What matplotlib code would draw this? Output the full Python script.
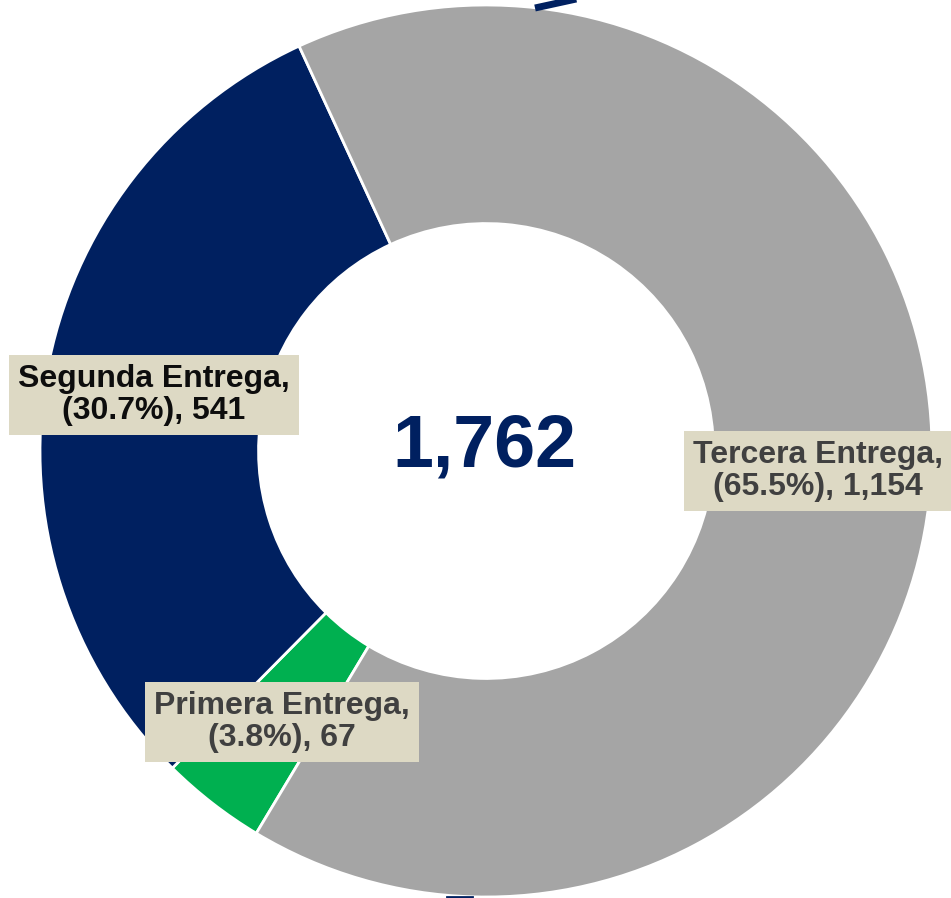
import matplotlib
matplotlib.use("Agg")
import matplotlib.pyplot as plt

plt.rcParams['font.family'] = ['Liberation Sans', 'DejaVu Sans']

# data
categories = ['Primera Entrega', 'Segunda Entrega', 'Tercera Entrega']
values = [67, 541, 1154]
colors = ['#00B050', '#002060', '#A5A5A5']
text_colors = ['#404040', '#0D0D0D', '#404040']
# label box centres in pixel coords (x, y from top)
label_pos = [(282, 722), (154, 395), (818, 471)]

total = sum(values)
W, H = 951, 898

fig = plt.figure(figsize=(W / 100, H / 100), dpi=100)
ax = fig.add_axes([0, 0, 1, 1])

cx, cy, r = 486, H - 451, 446
ax.pie(values, colors=colors, startangle=239, counterclock=False,
       center=(cx, cy), radius=r, frame=True,
       wedgeprops=dict(width=r * 0.49, edgecolor='white', linewidth=2))
ax.set_xlim(0, W)
ax.set_ylim(0, H)
ax.axis('off')

for name, v, tc, (px, py) in zip(categories, values, text_colors, label_pos):
    txt = f"{name},\n({v / total * 100:.1f}%), {v:,}"
    ax.text(px, H - py, txt, ha='center', va='center', fontsize=23,
            fontweight='bold', color=tc, linespacing=1.12,
            bbox=dict(boxstyle='square,pad=0.28', facecolor='#DDD9C4',
                      edgecolor='none'))

ax.text(484, H - 447, f"{total:,}", ha='center', va='center', fontsize=53,
        fontweight='bold', color='#002060')

# bits of other shapes peeking in at the edges
ax.plot([535, 590], [H - 8, H + 4], color='#002060', linewidth=5,
        solid_capstyle='butt')
ax.plot([447, 472], [1, 1], color='#002060', linewidth=2)

fig.savefig('out.png', dpi=100)
